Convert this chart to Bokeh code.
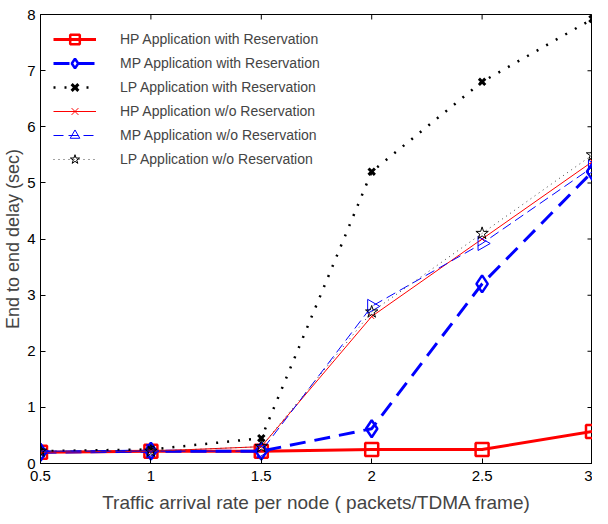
import math
from bokeh.plotting import figure
from bokeh.models import Range1d, FixedTicker, ColumnDataSource
from bokeh.embed import file_html
from bokeh.resources import INLINE

x = [0.5, 1.0, 1.5, 2.0, 2.5, 3.0]
hp_res = [0.20, 0.22, 0.22, 0.25, 0.25, 0.57]
mp_res = [0.20, 0.22, 0.22, 0.62, 3.20, 5.20]
lp_res = [0.22, 0.25, 0.45, 5.20, 6.80, 7.92]
hp_wo = [0.20, 0.22, 0.30, 2.62, 4.00, 5.38]
mp_wo = [0.22, 0.22, 0.22, 2.80, 3.92, 5.28]
lp_wo = [0.22, 0.22, 0.30, 2.70, 4.10, 5.50]
x_ticks = [0.5, 1, 1.5, 2, 2.5, 3]
y_ticks = [0, 1, 2, 3, 4, 5, 6, 7, 8]

FONT = "Liberation Sans"

p = figure(width=592, height=516, output_backend="svg", toolbar_location=None,
           x_range=Range1d(0.5, 3), y_range=Range1d(0, 8),
           min_border_left=35, min_border_right=0, min_border_top=14, min_border_bottom=53)
p.xgrid.visible = False
p.ygrid.visible = False
p.outline_line_color = "black"
p.outline_line_width = 1
p.background_fill_color = "white"

for ax in (p.xaxis[0], p.yaxis[0]):
    ax.major_tick_in = 5
    ax.major_tick_out = 0
    ax.minor_tick_in = 0
    ax.minor_tick_out = 0
    ax.major_label_text_font = FONT
    ax.major_label_text_font_size = "15px"
    ax.major_label_text_color = "black"
    ax.axis_label_text_font = FONT
    ax.axis_label_text_font_style = "normal"
    ax.axis_line_color = "black"
p.xaxis[0].axis_label_text_font_size = "19px"
p.yaxis[0].axis_label_text_font_size = "18px"
p.xaxis[0].ticker = FixedTicker(ticks=x_ticks)
p.yaxis[0].ticker = FixedTicker(ticks=y_ticks)
p.xaxis[0].major_label_overrides = {0.5: "0.5", 1: "1", 1.5: "1.5", 2: "2", 2.5: "2.5", 3: "3"}
p.xaxis[0].axis_label = "Traffic arrival rate per node ( packets/TDMA frame)"
p.yaxis[0].axis_label = "End to end delay (sec)"
p.xaxis[0].major_label_standoff = 7
p.yaxis[0].major_label_standoff = 5
p.xaxis[0].axis_label_standoff = 8
p.yaxis[0].axis_label_standoff = 1

# inward ticks on the top and right frame edges (tick positions from the tick lists)
top_src = ColumnDataSource(dict(x=x_ticks, y=[8] * len(x_ticks)))
right_src = ColumnDataSource(dict(x=[3] * len(y_ticks), y=y_ticks))
p.rect("x", "y", width=1, height=10, width_units="screen", height_units="screen",
       fill_color="black", line_color=None, source=top_src)
p.rect("x", "y", width=10, height=1, width_units="screen", height_units="screen",
       fill_color="black", line_color=None, source=right_src)

RED = "#ff0000"
BLUE = "#0000ff"

# HP with reservation
p.line(x, hp_res, line_color=RED, line_width=3, legend_label="HP Application with Reservation")
p.scatter(x, hp_res, marker="square", size=13, fill_color=None, line_color=RED, line_width=2.5,
          legend_label="HP Application with Reservation")
# MP with reservation
p.line(x, mp_res, line_color=BLUE, line_width=3, line_dash="16 9", legend_label="MP Application with Reservation")
p.scatter(x, mp_res, marker="diamond", size=17, fill_color=None, line_color=BLUE, line_width=2.5,
          legend_label="MP Application with Reservation")
# LP with reservation
p.line(x, lp_res, line_color="black", line_width=2.5, line_dash="2 9", legend_label="LP Application with Reservation")
p.scatter(x, lp_res, marker="x", size=9, line_color="black", line_width=3,
          legend_label="LP Application with Reservation")
# HP without reservation
p.line(x, hp_wo, line_color=RED, line_width=1, legend_label="HP Application w/o Reservation")
p.scatter(x, hp_wo, marker="x", size=7, line_color=RED, line_width=1,
          legend_label="HP Application w/o Reservation")
# MP without reservation
mp_src = ColumnDataSource(dict(x=x, y=mp_wo, ang=[-math.pi / 2] * len(x)))
p.line(x, mp_wo, line_color=BLUE, line_width=1, line_dash="10 5", legend_label="MP Application w/o Reservation")
p.scatter("x", "y", marker="triangle", angle="ang", size=14, fill_color=None, line_color=BLUE,
          line_width=1, legend_label="MP Application w/o Reservation", source=mp_src)
# LP without reservation
p.line(x, lp_wo, line_color="#444444", line_width=1, line_dash="1 4", legend_label="LP Application w/o Reservation")
p.scatter(x, lp_wo, marker="star", size=13, fill_color=None, line_color="black", line_width=1,
          legend_label="LP Application w/o Reservation")

lg = p.legend[0]
lg.location = "top_left"
lg.border_line_color = None
lg.background_fill_alpha = 0
lg.margin = 13
lg.padding = 10
lg.spacing = 0
lg.glyph_width = 43
lg.glyph_height = 24
lg.label_standoff = 24
lg.label_text_font = FONT
lg.label_text_font_size = "14px"
lg.label_height = 20

open("out.html", "w").write(file_html(p, INLINE))
